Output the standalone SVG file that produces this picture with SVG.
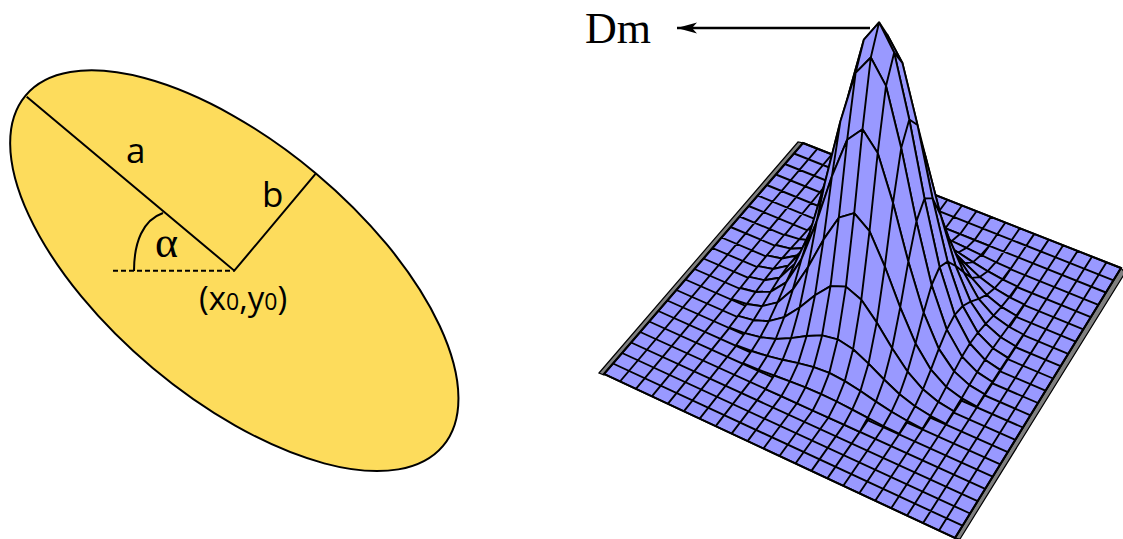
<svg xmlns="http://www.w3.org/2000/svg" width="1123" height="539" viewBox="0 0 1123 539">
<style>
.ln{fill:none;stroke:#000;stroke-width:2}
.lbl{font-family:"Open Sans","Noto Sans",sans-serif;fill:#000}
.ser{font-family:"Liberation Serif","Times New Roman",serif;fill:#000}
.grid{fill:none;stroke:#000;stroke-width:1.9}
.st{fill:#9999ff;stroke:#000;stroke-width:1.9;stroke-linejoin:round}
.side{fill:#808080;stroke:#000;stroke-width:1.2}
</style>
<defs>
<marker id="ah" viewBox="0 0 20 12" refX="20" refY="6" markerWidth="20" markerHeight="12" markerUnits="userSpaceOnUse" orient="auto">
<path d="M20,6 L0,0.5 L5,6 L0,11.5 Z" fill="#000"/>
</marker>
</defs>
<rect width="1123" height="539" fill="#fff"/>
<g id="ellipse-diagram">
<ellipse cx="234.3" cy="270.7" rx="272.5" ry="127" transform="rotate(40 234.3 270.7)" fill="#fddc5c" stroke="#000" stroke-width="2"/>
<path class="ln" d="M26.7,96.7 L234.3,270.7 L315.5,173.8"/>
<path class="ln" d="M113,270.7 L234,270.7" stroke-dasharray="5,3"/>
<path class="ln" d="M134,271 C134,242 143,220 163,213"/>
<text class="lbl" x="126" y="163" font-size="35">a</text>
<text class="lbl" x="262" y="206.5" font-size="35">b</text>
<text class="ser" x="155" y="257" font-size="44">α</text>
<text class="lbl" x="199" y="310" font-size="33">(x<tspan font-size="23">0</tspan>,y<tspan font-size="23">0</tspan>)</text>
</g>
<g id="surface-plot">
<polygon class="side" points="599,373 798,142 803,143 604,375"/>
<polygon class="side" points="1121,268 1125,273 960,539 955,538"/>
<polygon points="604,374 803,143 1121,268 955,538" fill="#9999ff"/>
<path class="grid" d="M604,374L803,143M620,381.5L817.5,148.7M635.9,388.9L831.9,154.4M651.9,396.4L846.4,160M667.8,403.8L860.8,165.7M683.8,411.3L875.3,171.4M699.7,418.7L889.7,177.1M715.7,426.2L904.2,182.8M731.6,433.6L918.6,188.5M747.6,441.1L933.1,194.1M763.5,448.5L947.5,199.8M779.5,456L962,205.5M795.5,463.5L976.5,211.2M811.4,470.9L990.9,216.9M827.4,478.4L1005.4,222.5M843.3,485.8L1019.8,228.2M859.3,493.3L1034.3,233.9M875.2,500.7L1048.7,239.6M891.2,508.2L1063.2,245.3M907.1,515.6L1077.6,251M923.1,523.1L1092.1,256.6M939,530.5L1106.5,262.3M955,538L1121,268
M604,374L955,538M613,363.5L962.5,525.7M622.1,353L970.1,513.5M631.1,342.5L977.6,501.2M640.2,332L985.2,488.9M649.2,321.5L992.7,476.6M658.3,311L1000.3,464.4M667.3,300.5L1007.8,452.1M676.4,290L1015.4,439.8M685.4,279.5L1022.9,427.5M694.5,269L1030.5,415.3M703.5,258.5L1038,403M712.5,248L1045.5,390.7M721.6,237.5L1053.1,378.5M730.6,227L1060.6,366.2M739.7,216.5L1068.2,353.9M748.7,206L1075.7,341.6M757.8,195.5L1083.3,329.4M766.8,185L1090.8,317.1M775.9,174.5L1098.4,304.8M784.9,164L1105.9,292.5M794,153.5L1113.5,280.3M803,143L1121,268"/>
<polygon points="604,374 803,143 1121,268 955,538" fill="none" stroke="#000" stroke-width="2"/>
<g id="peak">
<path class="st" d="M901.6,210.7 916.2,216.6 930.8,222.4 945.4,228.3 960.0,234.1 974.6,240.0 989.2,245.8 981.1,255.0 966.4,247.9 951.8,241.0 937.1,234.7 922.5,229.1 907.8,224.2 893.1,219.5Z M907.8,224.2L916.2,216.6M922.5,229.1L930.8,222.4M937.1,234.7L945.4,228.3M951.8,241.0L960.0,234.1M966.4,247.9L974.6,240.0"/>
<path class="st" d="M863.8,209.4 878.5,214.7 893.1,219.5 907.8,224.2 922.5,229.1 937.1,234.7 951.8,241.0 966.4,247.9 981.1,255.0 995.8,262.1 1010.4,268.7 1002.5,279.3 987.7,271.2 973.0,262.1 958.3,252.5 943.6,243.5 928.8,236.3 914.1,231.4 899.4,228.4 884.6,226.0 869.9,223.1 855.2,219.2Z M869.9,223.1L878.5,214.7M884.6,226.0L893.1,219.5M899.4,228.4L907.8,224.2M914.1,231.4L922.5,229.1M928.8,236.3L937.1,234.7M943.6,243.5L951.8,241.0M958.3,252.5L966.4,247.9M973.0,262.1L981.1,255.0M987.7,271.2L995.8,262.1"/>
<path class="st" d="M840.5,214.3 855.2,219.2 869.9,223.1 884.6,226.0 899.4,228.4 914.1,231.4 928.8,236.3 943.6,243.5 958.3,252.5 973.0,262.1 987.7,271.2 1002.5,279.3 1017.2,286.4 1009.3,297.1 994.5,288.3 979.7,277.1 964.9,263.2 950.1,248.1 935.3,234.5 920.5,225.4 905.7,222.4 890.9,223.8 876.1,226.7 861.3,228.4 846.5,227.4 831.8,224.1Z M846.5,227.4L855.2,219.2M861.3,228.4L869.9,223.1M876.1,226.7L884.6,226.0M890.9,223.8L899.4,228.4M905.7,222.4L914.1,231.4M920.5,225.4L928.8,236.3M935.3,234.5L943.6,243.5M950.1,248.1L958.3,252.5M964.9,263.2L973.0,262.1M979.7,277.1L987.7,271.2M994.5,288.3L1002.5,279.3"/>
<path class="st" d="M817.0,219.2 831.8,224.1 846.5,227.4 861.3,228.4 876.1,226.7 890.9,223.8 905.7,222.4 920.5,225.4 935.3,234.5 950.1,248.1 964.9,263.2 979.7,277.1 994.5,288.3 1009.3,297.1 1024.1,304.4 1016.3,315.7 1001.4,306.9 986.6,294.9 971.7,277.9 956.8,255.3 942.0,230.1 927.1,208.0 912.2,195.5 897.4,195.7 882.5,205.4 867.6,218.3 852.8,228.6 837.9,233.3 823.1,232.9 808.2,229.4Z M823.1,232.9L831.8,224.1M837.9,233.3L846.5,227.4M852.8,228.6L861.3,228.4M867.6,218.3L876.1,226.7M882.5,205.4L890.9,223.8M897.4,195.7L905.7,222.4M912.2,195.5L920.5,225.4M927.1,208.0L935.3,234.5M942.0,230.1L950.1,248.1M956.8,255.3L964.9,263.2M971.7,277.9L979.7,277.1M986.6,294.9L994.5,288.3M1001.4,306.9L1009.3,297.1"/>
<path class="st" d="M808.2,229.4 823.1,232.9 837.9,233.3 852.8,228.6 867.6,218.3 882.5,205.4 897.4,195.7 912.2,195.5 927.1,208.0 942.0,230.1 956.8,255.3 971.7,277.9 986.6,294.9 1001.4,306.9 1016.3,315.7 1008.5,326.5 993.5,315.7 978.6,298.9 963.7,272.2 948.7,237.6 933.8,197.2 918.9,162.4 903.9,144.9 889.0,149.9 874.1,172.2 859.1,200.2 844.2,223.2 829.3,236.5 814.3,240.7 799.4,239.1Z M814.3,240.7L823.1,232.9M829.3,236.5L837.9,233.3M844.2,223.2L852.8,228.6M859.1,200.2L867.6,218.3M874.1,172.2L882.5,205.4M889.0,149.9L897.4,195.7M903.9,144.9L912.2,195.5M918.9,162.4L927.1,208.0M933.8,197.2L942.0,230.1M948.7,237.6L956.8,255.3M963.7,272.2L971.7,277.9M978.6,298.9L986.6,294.9M993.5,315.7L1001.4,306.9"/>
<path class="st" d="M784.5,234.5 799.4,239.1 814.3,240.7 829.3,236.5 844.2,223.2 859.1,200.2 874.1,172.2 889.0,149.9 903.9,144.9 918.9,162.4 933.8,197.2 948.7,237.6 963.7,272.2 978.6,298.9 993.5,315.7 1008.5,326.5 1023.4,334.5 1015.6,346.2 1000.6,337.3 985.6,323.9 970.6,301.7 955.6,265.8 940.6,215.1 925.6,156.7 910.6,107.1 895.6,83.8 880.6,94.5 865.6,131.4 850.6,177.1 835.6,215.2 820.6,238.5 805.6,248.0 790.6,248.7 775.6,245.0Z M790.6,248.7L799.4,239.1M805.6,248.0L814.3,240.7M820.6,238.5L829.3,236.5M835.6,215.2L844.2,223.2M850.6,177.1L859.1,200.2M865.6,131.4L874.1,172.2M880.6,94.5L889.0,149.9M895.6,83.8L903.9,144.9M910.6,107.1L918.9,162.4M925.6,156.7L933.8,197.2M940.6,215.1L948.7,237.6M955.6,265.8L963.7,272.2M970.6,301.7L978.6,298.9M985.6,323.9L993.5,315.7M1000.6,337.3L1008.5,326.5"/>
<path class="st" d="M775.6,245.0 790.6,248.7 805.6,248.0 820.6,238.5 835.6,215.2 850.6,177.1 865.6,131.4 880.6,94.5 895.6,83.8 910.6,107.1 925.6,156.7 940.6,215.1 955.6,265.8 970.6,301.7 985.6,323.9 1000.6,337.3 1015.6,346.2 1007.9,357.9 992.8,348.2 977.8,332.8 962.7,306.0 947.6,261.6 932.5,198.1 917.5,125.0 902.4,63.0 887.3,34.7 872.3,50.2 857.2,99.4 842.1,159.7 827.1,210.4 812.0,241.9 796.9,255.5 781.9,258.5 766.8,255.4Z M781.9,258.5L790.6,248.7M796.9,255.5L805.6,248.0M812.0,241.9L820.6,238.5M827.1,210.4L835.6,215.2M842.1,159.7L850.6,177.1M857.2,99.4L865.6,131.4M872.3,50.2L880.6,94.5M887.3,34.7L895.6,83.8M902.4,63.0L910.6,107.1M917.5,125.0L925.6,156.7M932.5,198.1L940.6,215.1M947.6,261.6L955.6,265.8M962.7,306.0L970.6,301.7M977.8,332.8L985.6,323.9M992.8,348.2L1000.6,337.3"/>
<path class="st" d="M766.8,255.4 781.9,258.5 796.9,255.5 812.0,241.9 827.1,210.4 842.1,159.7 857.2,99.4 872.3,50.2 887.3,34.7 902.4,63.0 917.5,125.0 932.5,198.1 947.6,261.6 962.7,306.0 977.8,332.8 992.8,348.2 1007.9,357.9 1000.1,369.9 985.0,359.8 969.9,343.5 954.7,314.8 939.6,267.0 924.5,198.5 909.3,119.5 894.2,52.6 879.1,22.4 863.9,39.6 848.8,93.6 833.6,159.6 818.5,215.1 803.4,249.9 788.2,265.6 773.1,269.0 758.0,266.1Z M773.1,269.0L781.9,258.5M788.2,265.6L796.9,255.5M803.4,249.9L812.0,241.9M818.5,215.1L827.1,210.4M833.6,159.6L842.1,159.7M848.8,93.6L857.2,99.4M863.9,39.6L872.3,50.2M879.1,22.4L887.3,34.7M894.2,52.6L902.4,63.0M909.3,119.5L917.5,125.0M924.5,198.5L932.5,198.1M939.6,267.0L947.6,261.6M954.7,314.8L962.7,306.0M969.9,343.5L977.8,332.8M985.0,359.8L992.8,348.2"/>
<path class="st" d="M758.0,266.1 773.1,269.0 788.2,265.6 803.4,249.9 818.5,215.1 833.6,159.6 848.8,93.6 863.9,39.6 879.1,22.4 894.2,52.6 909.3,119.5 924.5,198.5 939.6,267.0 954.7,314.8 969.9,343.5 985.0,359.8 1000.1,369.9 992.4,382.0 977.2,372.1 962.0,356.6 946.8,329.6 931.6,285.0 916.4,221.4 901.2,148.1 886.0,85.9 870.8,57.5 855.6,72.8 840.3,121.8 825.1,181.9 809.9,232.5 794.7,263.9 779.5,277.7 764.3,280.2 749.1,276.9Z M764.3,280.2L773.1,269.0M779.5,277.7L788.2,265.6M794.7,263.9L803.4,249.9M809.9,232.5L818.5,215.1M825.1,181.9L833.6,159.6M840.3,121.8L848.8,93.6M855.6,72.8L863.9,39.6M870.8,57.5L879.1,22.4M886.0,85.9L894.2,52.6M901.2,148.1L909.3,119.5M916.4,221.4L924.5,198.5M931.6,285.0L939.6,267.0M946.8,329.6L954.7,314.8M962.0,356.6L969.9,343.5M977.2,372.1L985.0,359.8"/>
<path class="st" d="M749.1,276.9 764.3,280.2 779.5,277.7 794.7,263.9 809.9,232.5 825.1,181.9 840.3,121.8 855.6,72.8 870.8,57.5 886.0,85.9 901.2,148.1 916.4,221.4 931.6,285.0 946.8,329.6 962.0,356.6 977.2,372.1 992.4,382.0 984.6,394.3 969.4,385.1 954.1,371.4 938.8,348.9 923.6,312.6 908.3,261.6 893.0,202.9 877.7,153.0 862.5,129.3 847.2,139.7 831.9,176.3 816.6,221.7 801.4,259.4 786.1,282.4 770.8,291.6 755.6,292.0 740.3,288.0Z M755.6,292.0L764.3,280.2M770.8,291.6L779.5,277.7M786.1,282.4L794.7,263.9M801.4,259.4L809.9,232.5M816.6,221.7L825.1,181.9M831.9,176.3L840.3,121.8M847.2,139.7L855.6,72.8M862.5,129.3L870.8,57.5M877.7,153.0L886.0,85.9M893.0,202.9L901.2,148.1M908.3,261.6L916.4,221.4M923.6,312.6L931.6,285.0M938.8,348.9L946.8,329.6M954.1,371.4L962.0,356.6M969.4,385.1L977.2,372.1"/>
<path class="st" d="M740.3,288.0 755.6,292.0 770.8,291.6 786.1,282.4 801.4,259.4 816.6,221.7 831.9,176.3 847.2,139.7 862.5,129.3 877.7,153.0 893.0,202.9 908.3,261.6 923.6,312.6 938.8,348.9 954.1,371.4 969.4,385.1 984.6,394.3 976.9,406.7 961.6,398.2 946.2,386.9 930.9,369.7 915.5,343.4 900.2,307.4 884.8,266.5 869.5,231.2 854.2,213.2 838.8,217.7 823.5,239.6 808.1,267.0 792.8,289.6 777.5,302.4 762.1,306.2 746.8,304.0 731.4,299.0Z M746.8,304.0L755.6,292.0M762.1,306.2L770.8,291.6M777.5,302.4L786.1,282.4M792.8,289.6L801.4,259.4M808.1,267.0L816.6,221.7M823.5,239.6L831.9,176.3M838.8,217.7L847.2,139.7M854.2,213.2L862.5,129.3M869.5,231.2L877.7,153.0M884.8,266.5L893.0,202.9M900.2,307.4L908.3,261.6M915.5,343.4L923.6,312.6M930.9,369.7L938.8,348.9M946.2,386.9L954.1,371.4M961.6,398.2L969.4,385.1"/>
<path class="st" d="M746.8,304.0 762.1,306.2 777.5,302.4 792.8,289.6 808.1,267.0 823.5,239.6 838.8,217.7 854.2,213.2 869.5,231.2 884.8,266.5 900.2,307.4 915.5,343.4 930.9,369.7 946.2,386.9 961.6,398.2 953.7,411.3 938.3,401.9 922.9,389.3 907.5,371.6 892.1,348.3 876.7,322.4 861.3,299.7 845.9,286.6 830.5,286.1 815.0,295.2 799.6,307.5 784.2,317.1 768.8,321.2 753.4,320.2 738.0,315.9Z M753.4,320.2L762.1,306.2M768.8,321.2L777.5,302.4M784.2,317.1L792.8,289.6M799.6,307.5L808.1,267.0M815.0,295.2L823.5,239.6M830.5,286.1L838.8,217.7M845.9,286.6L854.2,213.2M861.3,299.7L869.5,231.2M876.7,322.4L884.8,266.5M892.1,348.3L900.2,307.4M907.5,371.6L915.5,343.4M922.9,389.3L930.9,369.7M938.3,401.9L946.2,386.9"/>
<path class="st" d="M738.0,315.9 753.4,320.2 768.8,321.2 784.2,317.1 799.6,307.5 815.0,295.2 830.5,286.1 845.9,286.6 861.3,299.7 876.7,322.4 892.1,348.3 907.5,371.6 922.9,389.3 938.3,401.9 953.7,411.3 945.9,423.9 930.4,415.8 915.0,406.2 899.5,394.2 884.0,379.5 868.5,363.6 853.1,349.2 837.6,339.3 822.1,335.4 806.6,336.0 791.1,338.1 775.7,339.0 760.2,337.2 744.7,333.2 729.2,327.5Z M744.7,333.2L753.4,320.2M760.2,337.2L768.8,321.2M775.7,339.0L784.2,317.1M791.1,338.1L799.6,307.5M806.6,336.0L815.0,295.2M822.1,335.4L830.5,286.1M837.6,339.3L845.9,286.6M853.1,349.2L861.3,299.7M868.5,363.6L876.7,322.4M884.0,379.5L892.1,348.3M899.5,394.2L907.5,371.6M915.0,406.2L922.9,389.3M930.4,415.8L938.3,401.9"/>
<path class="st" d="M744.7,333.2 760.2,337.2 775.7,339.0 791.1,338.1 806.6,336.0 822.1,335.4 837.6,339.3 853.1,349.2 868.5,363.6 884.0,379.5 899.5,394.2 915.0,406.2 930.4,415.8 922.5,428.8 907.0,420.7 891.5,411.7 875.9,401.6 860.4,391.0 844.8,381.1 829.3,372.9 813.7,367.1 798.2,363.1 782.6,359.8 767.1,355.9 751.5,351.0 736.0,345.2Z M751.5,351.0L760.2,337.2M767.1,355.9L775.7,339.0M782.6,359.8L791.1,338.1M798.2,363.1L806.6,336.0M813.7,367.1L822.1,335.4M829.3,372.9L837.6,339.3M844.8,381.1L853.1,349.2M860.4,391.0L868.5,363.6M875.9,401.6L884.0,379.5M891.5,411.7L899.5,394.2M907.0,420.7L915.0,406.2"/>
<path class="st" d="M751.5,351.0 767.1,355.9 782.6,359.8 798.2,363.1 813.7,367.1 829.3,372.9 844.8,381.1 860.4,391.0 875.9,401.6 891.5,411.7 907.0,420.7 899.1,433.7 883.4,426.0 867.8,417.8 852.2,409.6 836.6,401.5 821.0,394.1 805.4,387.4 789.8,381.4 774.1,375.5 758.5,369.6 742.9,363.2Z M758.5,369.6L767.1,355.9M774.1,375.5L782.6,359.8M789.8,381.4L798.2,363.1M805.4,387.4L813.7,367.1M821.0,394.1L829.3,372.9M836.6,401.5L844.8,381.1M852.2,409.6L860.4,391.0M867.8,417.8L875.9,401.6M883.4,426.0L891.5,411.7"/>
<path class="st" d="M774.1,375.5 789.8,381.4 805.4,387.4 821.0,394.1 836.6,401.5 852.2,409.6 867.8,417.8 859.7,431.9 844.0,424.7 828.4,417.6 812.7,410.5 797.0,403.3 781.3,396.2 765.6,389.1Z M781.3,396.2L789.8,381.4M797.0,403.3L805.4,387.4M812.7,410.5L821.0,394.1M828.4,417.6L836.6,401.5M844.0,424.7L852.2,409.6"/>
</g>
</g>
<g id="connectors">
<path d="M870,28 L677,28" fill="none" stroke="#000" stroke-width="2.5" marker-end="url(#ah)"/>
<text class="ser" x="585" y="43" font-size="44">Dm</text>
</g>
</svg>
